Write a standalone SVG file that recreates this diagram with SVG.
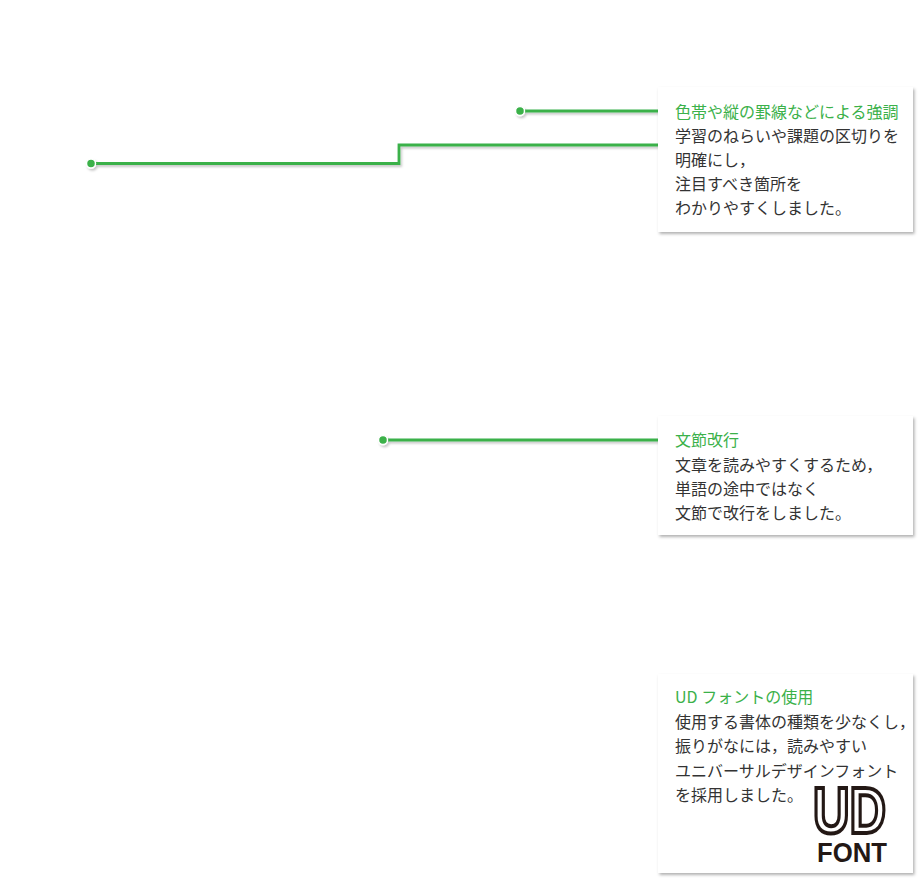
<svg xmlns="http://www.w3.org/2000/svg" width="920" height="880" viewBox="0 0 920 880">
<defs>
<filter id="boxShadow" x="-10%" y="-10%" width="125%" height="125%">
<feDropShadow dx="1.5" dy="2" stdDeviation="1.8" flood-color="#000" flood-opacity="0.3"/>
</filter>
<filter id="lineShadow" x="-5%" y="-50%" width="110%" height="200%">
<feDropShadow dx="1.5" dy="2" stdDeviation="1.2" flood-color="#000" flood-opacity="0.22"/>
</filter>
<style>
.box{fill:#fff;filter:url(#boxShadow);}
.ttl{font-family:"Noto Sans CJK JP","Noto Sans",sans-serif;font-size:16px;fill:#3bb14a;}
.txt{font-family:"Noto Sans CJK JP","Noto Sans",sans-serif;font-size:16px;fill:#333;}
.ln{fill:none;stroke:#3bb14a;stroke-width:2.8;}
.dot{fill:#3bb14a;stroke:#fff;stroke-width:1.5;}
</style>
</defs>
<rect width="920" height="880" fill="#fff"/>
<g id="connectors" filter="url(#lineShadow)">
<path class="ln" d="M520,111 H658"/>
<path class="ln" d="M91,163.5 H399 V145 H658"/>
<path class="ln" d="M383,440 H658"/>
<circle class="dot" cx="520" cy="111" r="4.5"/>
<circle class="dot" cx="91" cy="163.5" r="4.5"/>
<circle class="dot" cx="383" cy="440" r="4.5"/>
</g>
<g id="note-emphasis">
<rect class="box" x="658" y="87" width="255" height="145"/>
<text class="ttl" x="675" y="118">色帯や縦の罫線などによる強調</text>
<text class="txt" x="675" y="142">学習のねらいや課題の区切りを</text>
<text class="txt" x="675" y="166">明確にし，</text>
<text class="txt" x="675" y="190">注目すべき箇所を</text>
<text class="txt" x="675" y="214">わかりやすくしました。</text>
</g>
<g id="note-linebreak">
<rect class="box" x="658" y="416" width="255" height="119"/>
<text class="ttl" x="675" y="446">文節改行</text>
<text class="txt" x="675" y="471">文章を読みやすくするため，</text>
<text class="txt" x="675" y="495">単語の途中ではなく</text>
<text class="txt" x="675" y="519">文節で改行をしました。</text>
</g>
<g id="note-udfont">
<rect class="box" x="658" y="674" width="255" height="199"/>
<text class="ttl" x="675" y="703">UD フォントの使用</text>
<text class="txt" x="675" y="728">使用する書体の種類を少なくし，</text>
<text class="txt" x="675" y="752">振りがなには，読みやすい</text>
<text class="txt" x="675" y="777">ユニバーサルデザインフォント</text>
<text class="txt" x="675" y="801">を採用しました。</text>
<text x="813" y="833" font-family="Liberation Sans, sans-serif" font-weight="bold" font-size="64" fill="#fff" stroke="#231815" stroke-width="4" textLength="73" lengthAdjust="spacingAndGlyphs">UD</text>
<text x="817" y="862" font-family="Liberation Sans, sans-serif" font-weight="bold" font-size="27" fill="#231815" textLength="70" lengthAdjust="spacingAndGlyphs">FONT</text>
</g>
</svg>
